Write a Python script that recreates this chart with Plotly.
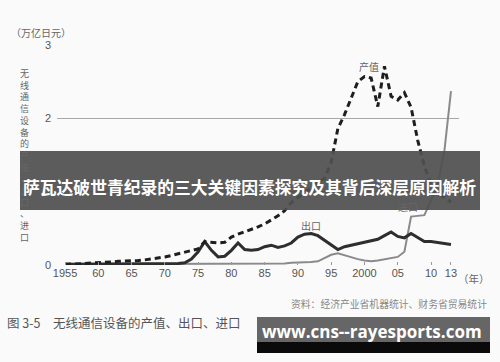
import plotly.graph_objects as go

years = list(range(1955, 2014))

# 产值 (production value), 万亿日元
production = [0.01, 0.01, 0.02, 0.02, 0.03, 0.03, 0.04, 0.04, 0.05, 0.05,
              0.05, 0.06, 0.07, 0.08, 0.10, 0.11, 0.13, 0.15, 0.17, 0.19,
              0.22, 0.32, 0.31, 0.30, 0.31, 0.38, 0.42, 0.45, 0.49, 0.52,
              0.56, 0.61, 0.67, 0.74, 0.85, 0.92, 0.98, 1.05, 1.12, 1.18,
              1.40, 1.86, 2.05, 2.28, 2.50, 2.57, 2.55, 2.16, 2.71, 2.30,
              2.25, 2.35, 2.15, 1.70, 1.35, 1.10, 0.98, 0.92, 0.86]

# 出口 (exports)
exports = [0.01, 0.01, 0.01, 0.01, 0.01, 0.01, 0.01, 0.01, 0.01, 0.01,
           0.01, 0.01, 0.01, 0.01, 0.01, 0.02, 0.02, 0.02, 0.03, 0.08,
           0.18, 0.32, 0.20, 0.11, 0.12, 0.20, 0.30, 0.21, 0.20, 0.21,
           0.25, 0.27, 0.24, 0.26, 0.30, 0.38, 0.42, 0.43, 0.40, 0.34,
           0.27, 0.21, 0.25, 0.27, 0.30, 0.32, 0.33, 0.35, 0.40, 0.45,
           0.39, 0.37, 0.43, 0.38, 0.32, 0.32, 0.31, 0.30, 0.28]

# 进口 (imports)
imports = [0.01, 0.01, 0.01, 0.01, 0.01, 0.01, 0.01, 0.01, 0.01, 0.01,
           0.01, 0.01, 0.01, 0.01, 0.01, 0.01, 0.01, 0.01, 0.01, 0.01,
           0.01, 0.02, 0.02, 0.02, 0.02, 0.02, 0.02, 0.02, 0.02, 0.02,
           0.02, 0.02, 0.02, 0.02, 0.03, 0.03, 0.03, 0.04, 0.05, 0.09,
           0.14, 0.16, 0.13, 0.10, 0.08, 0.06, 0.05, 0.06, 0.08, 0.10,
           0.11, 0.18, 0.66, 0.67, 0.68, 0.88, 1.10, 1.55, 2.37]

x_tickvals = [1955, 1960, 1965, 1970, 1975, 1980, 1985, 1990, 1995, 2000, 2005, 2010, 2013]
x_ticktext = ["1955", "60", "65", "70", "75", "80", "85", "90", "95", "2000", "05", "10", "13"]
y_tickvals = [0, 1, 2, 3]
y_ticktext = ["0", "1", "2", "3"]

W, H = 500, 362
ML, MR, MT, MB = 57, 41, 45, 97
PW, PH = W - ML - MR, H - MT - MB


def px(x):
    return (x - ML) / PW


def py(y):
    return (H - MB - y) / PH


fig = go.Figure()
fig.add_trace(go.Scatter(x=years, y=imports, mode="lines",
                         line=dict(color="#8a8a8a", width=2), name="进口"))
fig.add_trace(go.Scatter(x=years, y=exports, mode="lines",
                         line=dict(color="#2e2e2e", width=3), name="出口"))
fig.add_trace(go.Scatter(x=years, y=production, mode="lines",
                         line=dict(color="#1e1e1e", width=3, dash="6px,4px"), name="产值"))

font_cjk = "Noto Sans CJK SC, Noto Sans, sans-serif"

annotations = []


def text(x, y, s, size, color, xanchor="center", yanchor="middle", family=font_cjk):
    annotations.append(dict(x=px(x), y=py(y), xref="paper", yref="paper", text=s,
                            showarrow=False, xanchor=xanchor, yanchor=yanchor, borderpad=0,
                            font=dict(size=size, color=color, family=family)))


text(10, 32, "（万亿日元）", 10, "#666", xanchor="left")
text(24, 66, "<br>".join(list("无线通信设备的产值、出口、进口")), 9, "#666", yanchor="top")
text(369, 66, "产值", 10, "#666")
text(311, 225, "出口", 10, "#666")
text(408, 206, "进口", 10, "#666")
text(457, 278, "（年）", 10.5, "#666", xanchor="left")
text(488, 304, "资料：经济产业省机器统计、财务省贸易统计", 9.8, "#888", xanchor="right")
text(6, 322, "图 3-5　无线通信设备的产值、出口、进口", 12.5, "#555", xanchor="left")

shapes = [
    dict(type="rect", xref="paper", yref="paper", x0=px(20), x1=px(480), y0=py(151), y1=py(210),
         fillcolor="rgba(80,80,80,0.93)", line=dict(width=0), layer="above"),
    dict(type="rect", xref="paper", yref="paper", x0=px(257), x1=px(490), y0=py(317), y1=py(342),
         fillcolor="#666666", line=dict(width=0), layer="above"),
    dict(type="rect", xref="paper", yref="paper", x0=px(257), x1=px(490), y0=py(342), y1=py(353),
         fillcolor="#0a0a0a", line=dict(width=0), layer="above"),
]

annotations.append(dict(x=px(249), y=py(187), xref="paper", yref="paper",
                        text="<b>萨瓦达破世青纪录的三大关键因素探究及其背后深层原因解析</b>",
                        showarrow=False, xanchor="center", yanchor="middle",
                        font=dict(size=16.8, color="white", family=font_cjk)))
annotations.append(dict(x=px(372), y=py(331), xref="paper", yref="paper",
                        text="<b>www.cns--rayesports.com</b>",
                        showarrow=False, xanchor="center", yanchor="middle",
                        font=dict(size=17, color="white", family="Open Sans, sans-serif")))

fig.update_layout(
    width=W, height=H,
    margin=dict(l=ML, r=MR, t=MT, b=MB),
    paper_bgcolor="#fafafa", plot_bgcolor="#fafafa",
    showlegend=False,
    shapes=shapes,
    annotations=annotations,
    xaxis=dict(range=[1955 - 8 / 6.65, 2013 + 8 / 6.65], tickvals=x_tickvals, ticktext=x_ticktext,
               showgrid=False, zeroline=False, showline=False,
               ticks="inside", ticklen=3, tickcolor="#999",
               tickfont=dict(size=11, color="#555", family="Liberation Sans, Arial, sans-serif")),
    yaxis=dict(range=[0, 3], tickvals=y_tickvals, ticktext=y_ticktext,
               showgrid=True, gridcolor="#a8a8a8", gridwidth=1, zeroline=False, showline=False,
               ticklabelstandoff=5,
               tickfont=dict(size=11, color="#555", family="Liberation Sans, Arial, sans-serif")),
)

fig.write_html("out.html", config={"displayModeBar": False},
               post_script="document.body.style.margin='0';document.body.style.background='#fafafa';")
